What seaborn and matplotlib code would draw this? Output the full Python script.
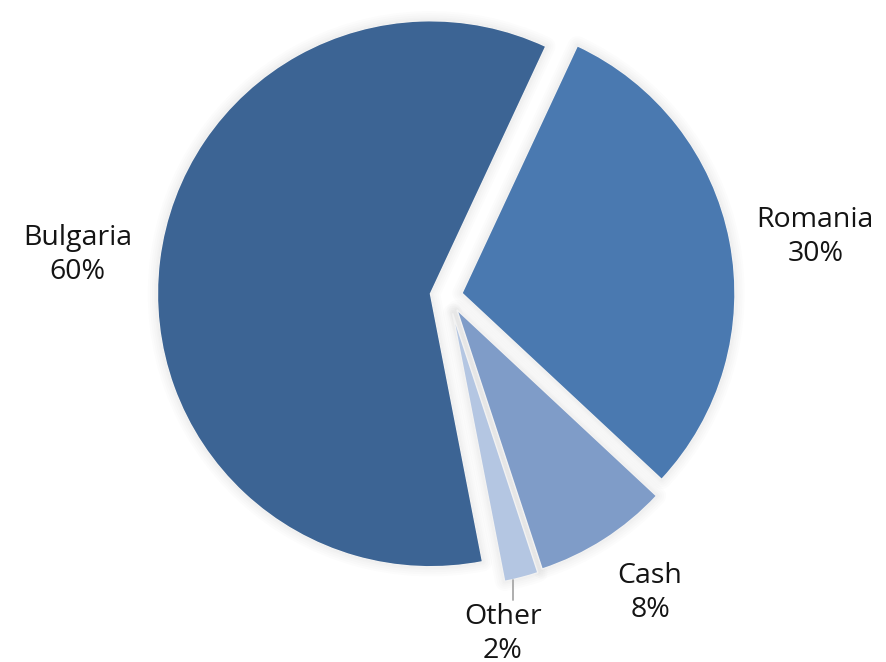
import numpy as np
import matplotlib
matplotlib.use('Agg')
import matplotlib.pyplot as plt
import seaborn as sns
from matplotlib.patches import Wedge

# data
labels = ['Bulgaria', 'Romania', 'Cash', 'Other']
shares = [60, 30, 8, 2]
colors = ['#3C6494', '#4A79B0', '#7F9CC8', '#B4C6E2']
explode = [0.065, 0.052, 0.06, 0.066]

# label placement (distance in radii from wedge centre, angle shift in degrees)
label_dist = [1.30, 1.31, 1.256, 1.19]
label_shift = [0.7, -2.0, 1.7, -5.7]

sns.set_theme(style='white')
plt.rcParams['font.family'] = ['Open Sans', 'DejaVu Sans']

fig = plt.figure(figsize=(8.86, 6.62), dpi=100)
ax = fig.add_axes([0, 0, 1, 1])

wedges, _ = ax.pie(shares, explode=explode, colors=colors, startangle=281,
                   counterclock=False,
                   wedgeprops=dict(edgecolor='#f2f2f2', linewidth=1.0))

# soft shadow around each slice
for w in wedges:
    for lw in [14, 11, 8, 5, 3]:
        ax.add_patch(Wedge(w.center, w.r, w.theta1, w.theta2, facecolor='none',
                           edgecolor='black', lw=lw, alpha=0.013, joinstyle='round',
                           zorder=w.get_zorder() - 0.5))

# labels
for w, lab, s, d, sh in zip(wedges, labels, shares, label_dist, label_shift):
    mid = np.deg2rad((w.theta1 + w.theta2) / 2 + sh)
    cx, cy = w.center
    ax.text(cx + d * w.r * np.cos(mid), cy + d * w.r * np.sin(mid),
            f'{lab}\n{s}%', ha='center', va='center', multialignment='center',
            fontsize=20.5, color='#141414', linespacing=1.3)

# leader line for the small slice
w = wedges[3]
a = np.deg2rad(w.theta1 + 0.25 * (w.theta2 - w.theta1))
px = w.center[0] + w.r * np.cos(a)
py = w.center[1] + w.r * np.sin(a)
ax.plot([px, px], [py, py - 0.075], color='#a8a8a8', lw=1.3)

ax.set_xlim(-1.641, 1.604)
ax.set_ylim(-1.341, 1.084)
ax.set_aspect('equal')
ax.axis('off')

fig.savefig('out.png', dpi=100)
